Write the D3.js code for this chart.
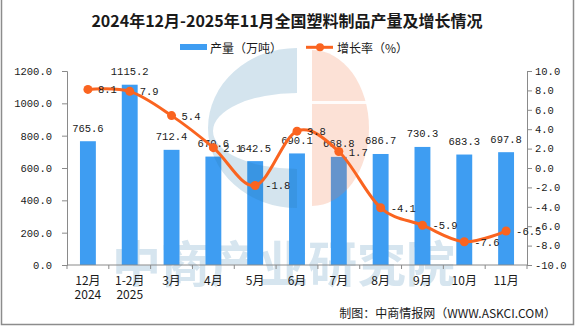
<!DOCTYPE html>
<html>
<head>
<meta charset="utf-8">
<script src="https://cdn.jsdelivr.net/npm/d3@7"></script>
<style>
  body { margin: 0; background: #fff; }
  svg text { fill: #1a1a1a; }
</style>
</head>
<body>
<div id="chart"></div>
<script>
// data
var months = ["12月", "1-2月", "3月", "4月", "5月", "6月", "7月", "8月", "9月", "10月", "11月"];
var years = ["2024", "2025", "", "", "", "", "", "", "", "", ""];
var output = [765.6, 1115.2, 712.4, 670.6, 642.5, 690.1, 668.8, 686.7, 730.3, 683.3, 697.8];
var growth = [8.1, 7.9, 5.4, 2.1, -1.8, 3.8, 1.7, -4.1, -5.9, -7.6, -6.5];
var leftTicks = [0, 200, 400, 600, 800, 1000, 1200];
var rightTicks = [-10, -8, -6, -4, -2, 0, 2, 4, 6, 8, 10];

var W = 575, H = 326;
var margin = { top: 71, right: 48, bottom: 61, left: 67 };
var barColor = "#3e9df2", lineColor = "#fa6420", axisColor = "#8a8a8a";
var numFont = "'Liberation Mono', monospace";
var cjkFont = "'Noto Sans CJK SC', sans-serif";

var svg = d3.select("#chart").append("svg")
  .attr("width", W).attr("height", H);

// frame (left, right, bottom)
svg.append("path")
  .attr("d", "M1.5,0V324.5H573.5V0")
  .attr("fill", "none").attr("stroke", "#8c8c8c").attr("stroke-width", 1.5);

var x = d3.scaleBand().domain(months)
  .range([margin.left, W - margin.right]).paddingInner(0.62).paddingOuter(0.31);
var xb = d3.scaleBand().domain(months).range([margin.left, W - margin.right]);
var yL = d3.scaleLinear().domain([0, 1200]).range([H - margin.bottom, margin.top]);
var yR = d3.scaleLinear().domain([-10, 10]).range([H - margin.bottom, margin.top]);

// title
svg.append("text")
  .attr("x", 287).attr("y", 20).attr("text-anchor", "middle").attr("dominant-baseline", "central")
  .style("font-family", cjkFont).style("font-size", "16px").style("font-weight", "bold")
  .text("2024年12月-2025年11月全国塑料制品产量及增长情况");

// legend
var lg = svg.append("g").style("font-family", cjkFont).style("font-size", "12px");
lg.append("rect").attr("x", 180).attr("y", 44).attr("width", 27).attr("height", 6).attr("fill", barColor);
lg.append("text").attr("x", 210).attr("y", 47).attr("dominant-baseline", "central").text("产量（万吨）");
lg.append("line").attr("x1", 306).attr("x2", 333).attr("y1", 47.3).attr("y2", 47.3)
  .attr("stroke", lineColor).attr("stroke-width", 3);
lg.append("circle").attr("cx", 320).attr("cy", 47.3).attr("r", 4).attr("fill", lineColor);
lg.append("text").attr("x", 337).attr("y", 47).attr("dominant-baseline", "central").text("增长率（%）");

// watermark text behind the bars
svg.append("text")
  .attr("x", 112).attr("y", 260).attr("dominant-baseline", "central")
  .style("font-family", cjkFont).style("font-size", "49px").style("font-weight", "bold")
  .style("fill", "#d6e5ef")
  .text("中商产业研究院");

// bars
svg.append("g").selectAll("rect")
  .data(output)
  .join("rect")
  .attr("x", function (d, i) { return x(months[i]); })
  .attr("y", function (d) { return yL(d); })
  .attr("width", x.bandwidth())
  .attr("height", function (d) { return yL(0) - yL(d); })
  .attr("fill", barColor);

// logo watermark, semi transparent on top of bars
var logo = svg.append("g").style("pointer-events", "none");
logo.append("path")
  .attr("d", "M297,48 A89,80 0 0 0 297,208 V169 A84,38 0 0 1 297,93 Z")
  .attr("fill", "rgb(40,120,170)").attr("opacity", 0.2);
logo.append("path")
  .attr("d", "M312,50 A57,78 0 0 1 369,128 A57,78 0 0 1 312,206 Z")
  .attr("fill", "rgb(240,120,70)").attr("opacity", 0.22);
logo.append("rect").attr("x", 311).attr("y", 101).attr("width", 60).attr("height", 3).attr("fill", "#fff").attr("opacity", 0.9);

// axes
var axL = svg.append("g").attr("transform", "translate(" + margin.left + ",0)")
  .call(d3.axisLeft(yL).tickValues(leftTicks).tickSize(5).tickPadding(10).tickFormat(d3.format(".1f")));
var axR = svg.append("g").attr("transform", "translate(" + (W - margin.right) + ",0)")
  .call(d3.axisRight(yR).tickValues(rightTicks).tickSize(5).tickPadding(3).tickFormat(d3.format(".1f")));
[axL, axR].forEach(function (a) {
  a.select(".domain").attr("stroke", axisColor);
  a.selectAll(".tick line").attr("stroke", axisColor);
  a.selectAll(".tick text").style("font-family", numFont).style("font-size", "10.5px").style("fill", "#1a1a1a");
});
axR.selectAll(".tick text").text(function (d) { return d3.format(".1f")(d).replace("−", "-"); });

var axB = svg.append("g").attr("transform", "translate(0," + yL(0) + ")");
axB.append("line").attr("x1", margin.left).attr("x2", W - margin.right).attr("stroke", axisColor);
axB.selectAll("line.tk")
  .data(months.concat(["end"]))
  .join("line").attr("class", "tk")
  .attr("x1", function (d, i) { return margin.left + i * xb.bandwidth(); })
  .attr("x2", function (d, i) { return margin.left + i * xb.bandwidth(); })
  .attr("y1", 0).attr("y2", 4).attr("stroke", axisColor);
var xl = axB.selectAll("text.m").data(months).join("text").attr("class", "m")
  .attr("x", function (d) { return xb(d) + xb.bandwidth() / 2; })
  .attr("y", 19.5)
  .attr("text-anchor", "middle")
  .style("font-family", cjkFont).style("font-size", "12px")
  .text(function (d) { return d; });
axB.selectAll("text.yr").data(years.filter(function (d) { return d !== ""; })).join("text").attr("class", "yr")
  .attr("x", function (d, i) { return xb(months[i]) + xb.bandwidth() / 2; })
  .attr("y", 33.5)
  .attr("text-anchor", "middle")
  .style("font-family", cjkFont).style("font-size", "12px")
  .text(function (d) { return d; });

// bar value labels
svg.append("g").selectAll("text")
  .data(output).join("text")
  .attr("x", function (d, i) { return xb(months[i]) + xb.bandwidth() / 2; })
  .attr("y", function (d) { return yL(d) - 12.5; })
  .attr("text-anchor", "middle").attr("dominant-baseline", "central")
  .style("font-family", numFont).style("font-size", "10.5px")
  .text(function (d) { return d.toFixed(1); });

// growth line
var cx = function (i) { return xb(months[i]) + xb.bandwidth() / 2; };
var line = d3.line()
  .x(function (d, i) { return cx(i); })
  .y(function (d) { return yR(d); })
  .curve(d3.curveCardinal.tension(0));
svg.append("path").datum(growth)
  .attr("d", line).attr("fill", "none")
  .attr("stroke", lineColor).attr("stroke-width", 3);
svg.append("g").selectAll("circle")
  .data(growth).join("circle")
  .attr("cx", function (d, i) { return cx(i); })
  .attr("cy", function (d) { return yR(d); })
  .attr("r", 4.5).attr("fill", lineColor);
svg.append("g").selectAll("text")
  .data(growth).join("text")
  .attr("x", function (d, i) { return cx(i) + 10; })
  .attr("y", function (d) { return yR(d) + 1; })
  .attr("dominant-baseline", "central")
  .style("font-family", numFont).style("font-size", "10.5px")
  .text(function (d) { return d.toFixed(1); });

// source
svg.append("text")
  .attr("x", 556).attr("y", 312).attr("text-anchor", "end").attr("dominant-baseline", "central")
  .style("font-family", cjkFont).style("font-size", "12px")
  .text("制图：中商情报网（WWW.ASKCI.COM）");
</script>
</body>
</html>
